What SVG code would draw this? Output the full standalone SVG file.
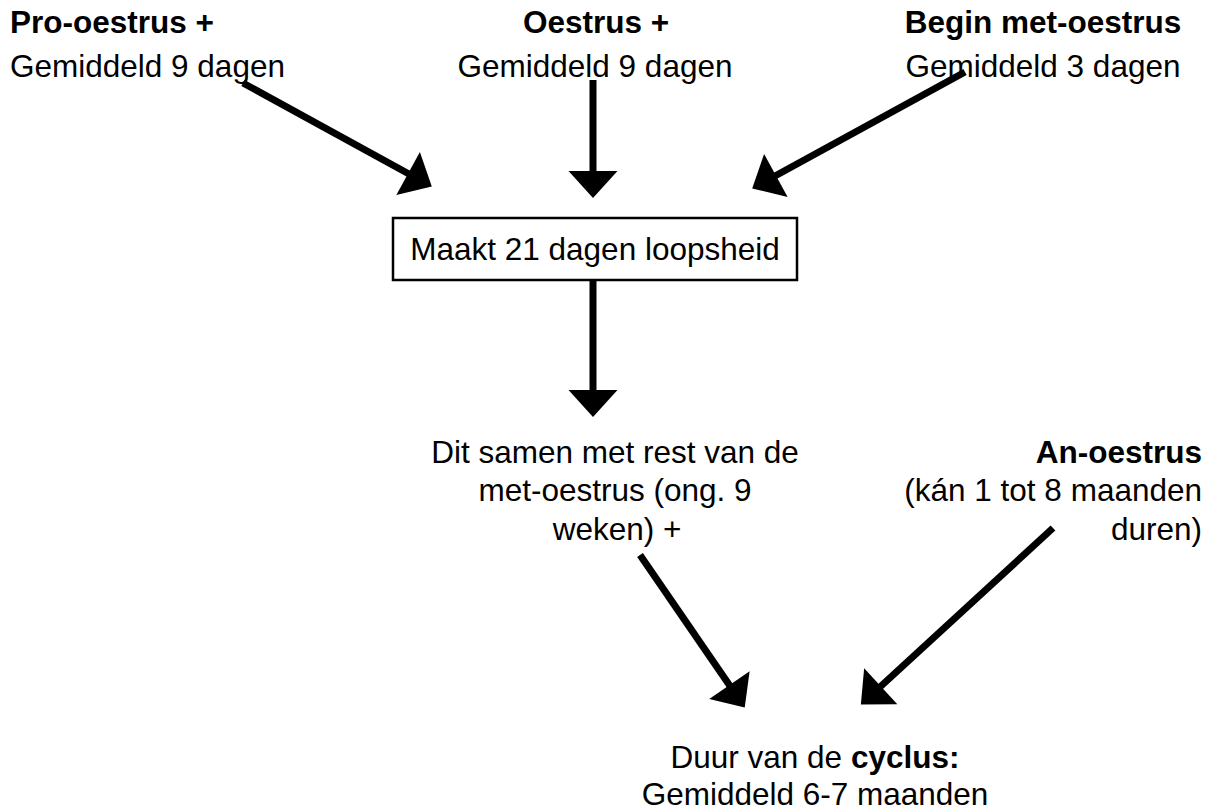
<svg xmlns="http://www.w3.org/2000/svg" width="1212" height="812" viewBox="0 0 1212 812">
  <style>
    text { font-family: "Liberation Sans", Arial, Helvetica, sans-serif; font-size: 31.5px; fill: #000; }
    .b { font-weight: bold; }
    .mid { text-anchor: middle; }
    .end { text-anchor: end; }
    .box { fill: #fff; stroke: #000; stroke-width: 2.5; }
    .conn { stroke: #000; stroke-width: 7; fill: none; marker-end: url(#head); }
  </style>
  <defs>
    <marker id="head" markerUnits="userSpaceOnUse" viewBox="0 -25 28 50" refX="1" refY="0" markerWidth="28" markerHeight="50" orient="auto" overflow="visible">
      <path d="M0,-24.5 L27,0 L0,24.5 Z" fill="#000"/>
    </marker>
  </defs>
  <rect width="1212" height="812" fill="#fff"/>

  <g id="connectors">
    <line class="conn" x1="243" y1="83" x2="409" y2="174"/>
    <line class="conn" x1="593" y1="80" x2="593" y2="172"/>
    <line class="conn" x1="965" y1="72" x2="775" y2="176"/>
    <line class="conn" x1="593" y1="280" x2="593" y2="391"/>
    <line class="conn" x1="640" y1="555" x2="730" y2="686"/>
    <line class="conn" x1="1053" y1="528" x2="880" y2="687"/>
  </g>

  <g id="pro-oestrus">
    <text class="b" x="10" y="33">Pro-oestrus +</text>
    <text x="10" y="77">Gemiddeld 9 dagen</text>
  </g>

  <g id="oestrus">
    <text class="b mid" x="596" y="33">Oestrus +</text>
    <text class="mid" x="595" y="77">Gemiddeld 9 dagen</text>
  </g>

  <g id="begin-met-oestrus">
    <text class="b mid" x="1043" y="33">Begin met-oestrus</text>
    <text class="mid" x="1043" y="77">Gemiddeld 3 dagen</text>
  </g>

  <g id="loopsheid">
    <rect class="box" x="393" y="218" width="404" height="62"/>
    <text class="mid" x="595" y="260">Maakt 21 dagen loopsheid</text>
  </g>

  <g id="met-oestrus-rest">
    <text class="mid" x="615" y="463">Dit samen met rest van de</text>
    <text class="mid" x="615" y="501">met-oestrus (ong. 9</text>
    <text class="mid" x="617" y="540">weken) +</text>
  </g>

  <g id="an-oestrus">
    <text class="b end" x="1202" y="463">An-oestrus</text>
    <text class="end" x="1202" y="501">(kán 1 tot 8 maanden</text>
    <text class="end" x="1202" y="540">duren)</text>
  </g>

  <g id="cyclus">
    <text class="mid" x="815" y="768">Duur van de <tspan class="b">cyclus:</tspan></text>
    <text class="mid" x="815" y="805">Gemiddeld 6-7 maanden</text>
  </g>
</svg>
